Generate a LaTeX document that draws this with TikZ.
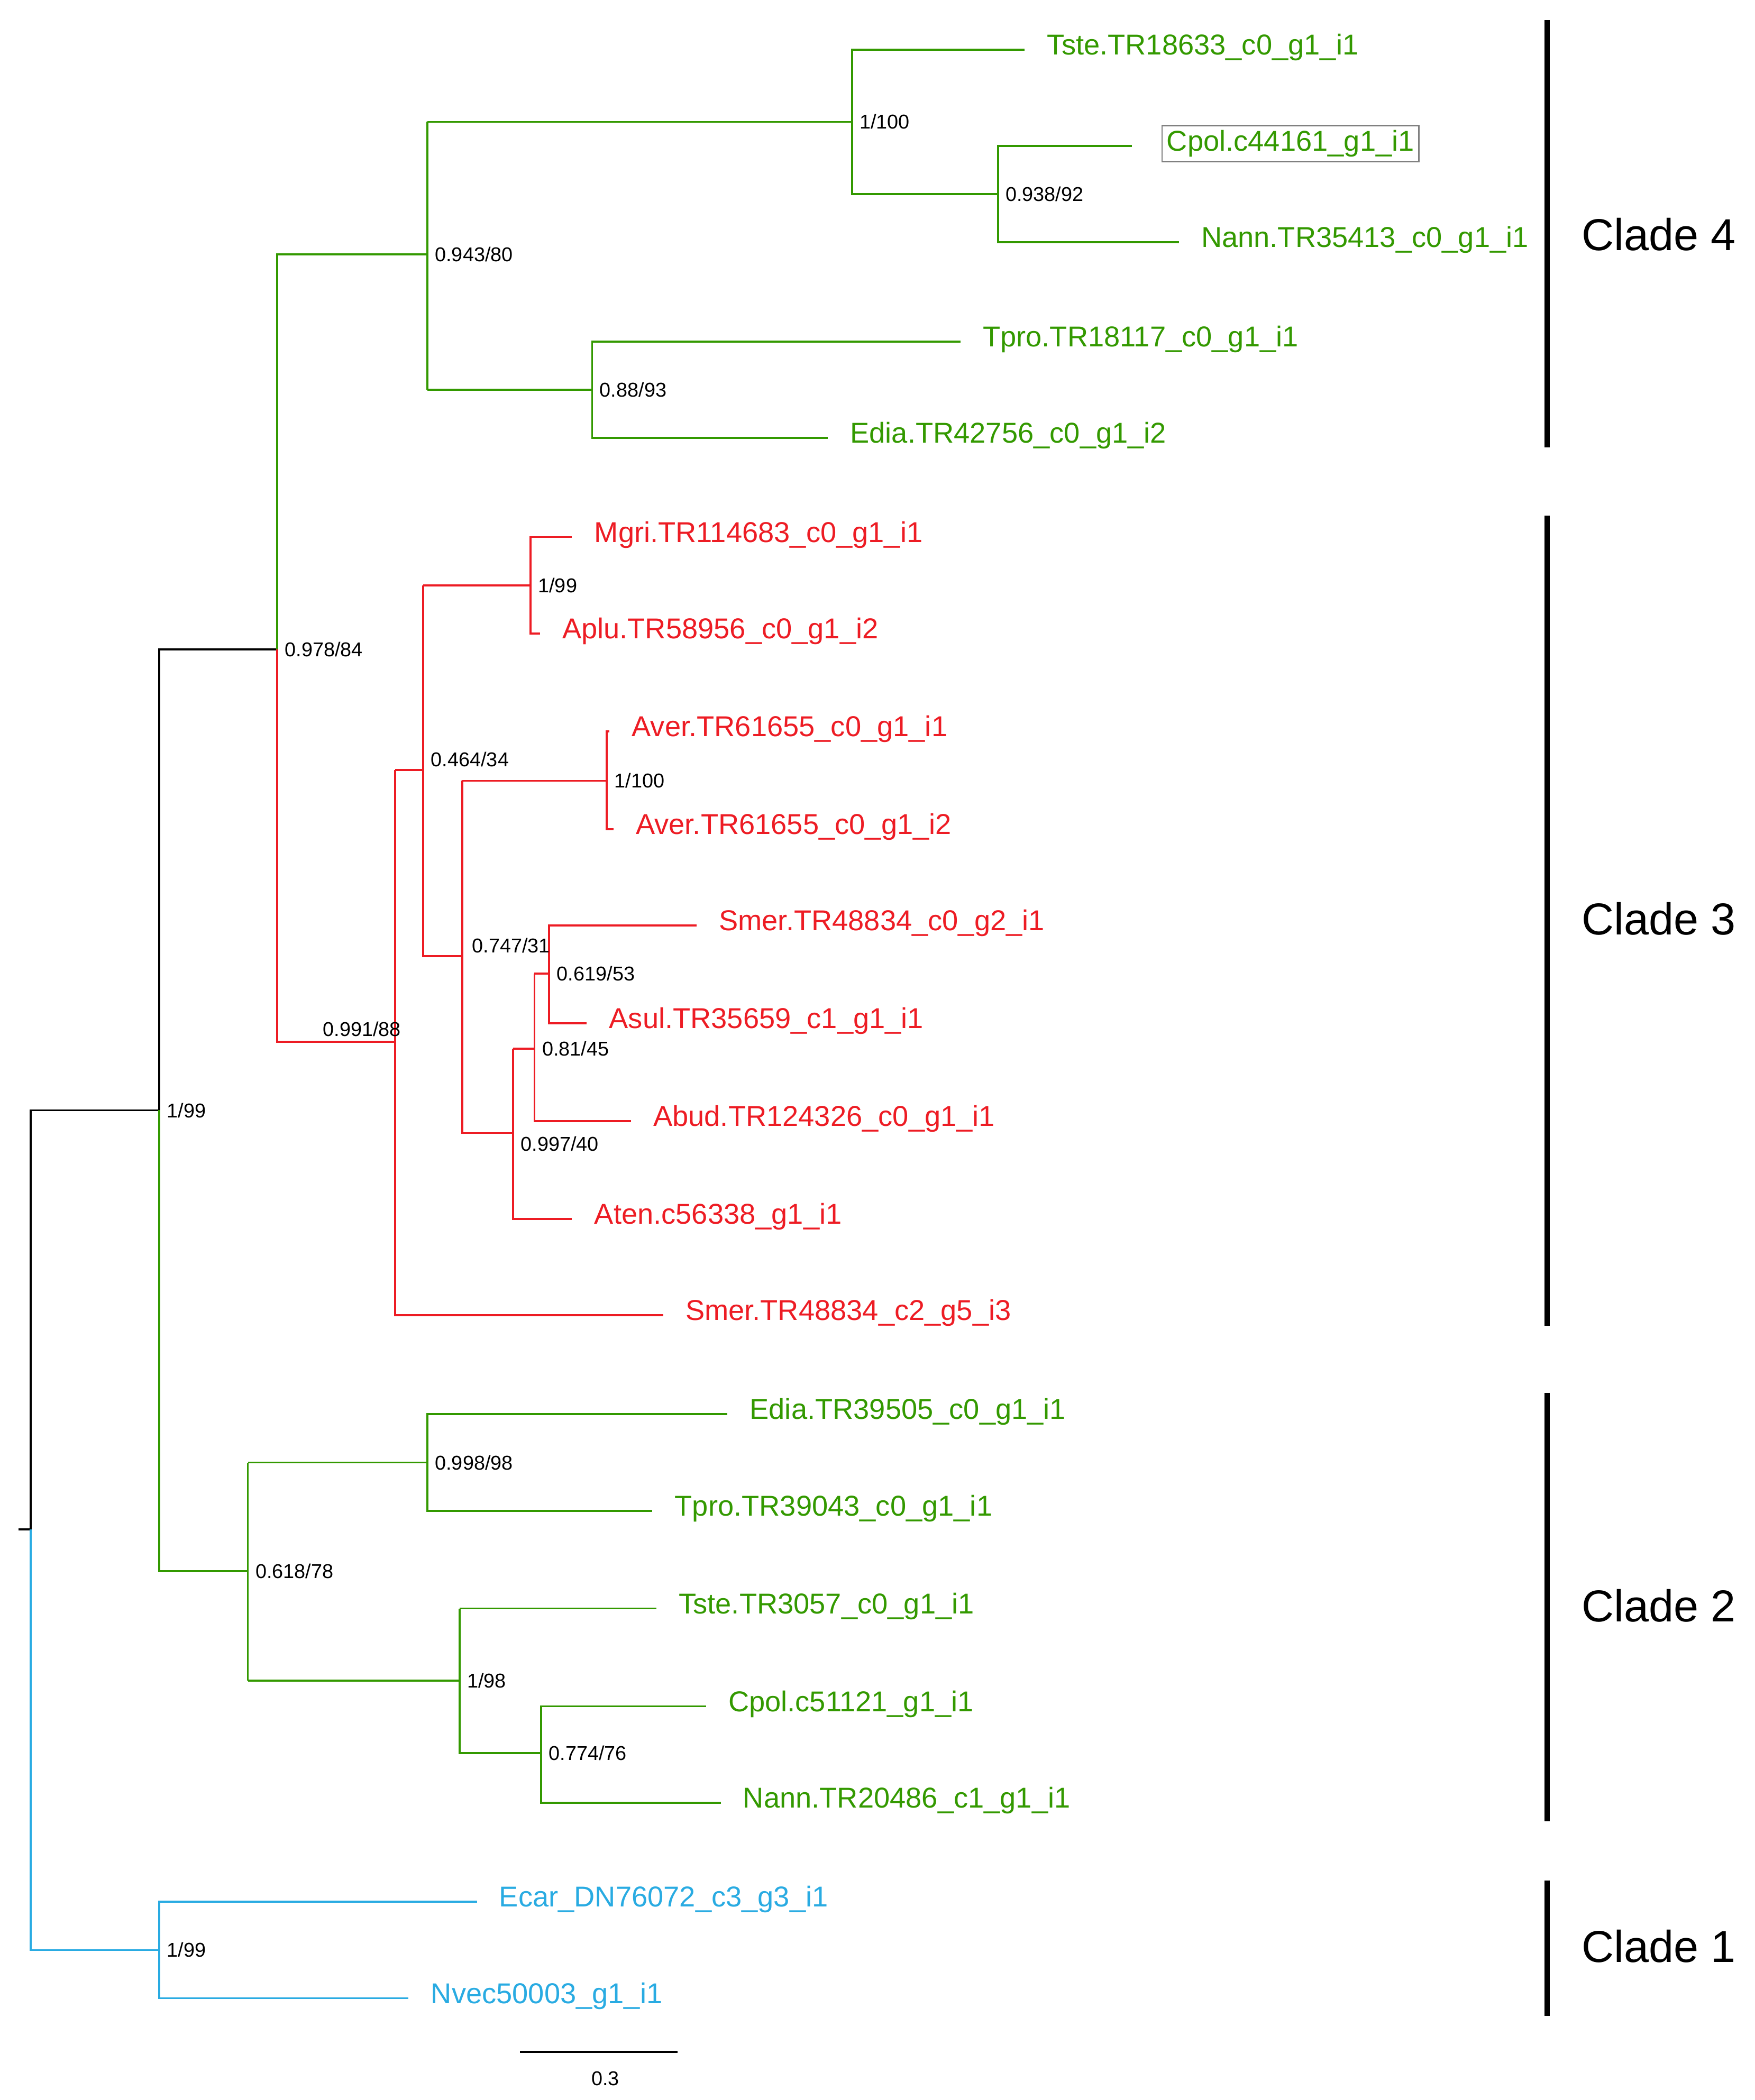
\documentclass[tikz,border=0pt]{standalone}
\usepackage{fontspec}
\setmainfont{Liberation Sans}
\definecolor{cg}{RGB}{51,153,0}
\definecolor{cr}{RGB}{237,28,36}
\definecolor{cb}{RGB}{41,171,226}
\begin{document}
\begin{tikzpicture}[x=0.02cm,y=-0.02cm,line width=0.85pt,
  leaf/.style={anchor=west,inner sep=0pt,xshift=0.32cm,yshift=1pt,font=\fontsize{12.2}{14}\selectfont},
  sup/.style={anchor=west,inner sep=0pt,xshift=0.1cm,font=\fontsize{8.5}{10}\selectfont,text=black},
  clade/.style={anchor=west,inner sep=0pt,font=\fontsize{19}{22}\selectfont},
  bar/.style={line width=2.4pt,black}]
\useasboundingbox (0,0) rectangle (1310,1568);
% internal nodes (x of vertical, y of attachment)
\coordinate (R) at (23,1142);
\coordinate (A) at (119,829);
\coordinate (B) at (207,485);
\coordinate (C4) at (319,190);
\coordinate (D) at (636,91);
\coordinate (E) at (745,145);
\coordinate (F) at (442,291);
\coordinate (G) at (295,778);
\coordinate (H) at (316,575);
\coordinate (I) at (396,437);
\coordinate (J) at (345,714);
\coordinate (K) at (453,583);
\coordinate (L) at (383,846);
\coordinate (M) at (399,783);
\coordinate (N) at (410,727);
\coordinate (O) at (185,1173);
\coordinate (P) at (319,1092);
\coordinate (Q) at (343,1255);
\coordinate (S) at (404,1309);
\coordinate (T) at (119,1456);
% leaves
\coordinate (l1) at (765,37);  \node[leaf,text=cg] (t1) at (l1) {Tste.TR18633\_c0\_g1\_i1};
\coordinate (l2) at (845,109); \node[leaf,text=cg,draw=gray,line width=0.6pt,inner sep=2pt,xshift=0.12cm] (t2) at (l2) {Cpol.c44161\_g1\_i1};
\coordinate (l3) at (880,181); \node[leaf,text=cg] (t3) at (l3) {Nann.TR35413\_c0\_g1\_i1};
\coordinate (l4) at (717,255); \node[leaf,text=cg] (t4) at (l4) {Tpro.TR18117\_c0\_g1\_i1};
\coordinate (l5) at (618,327); \node[leaf,text=cg] (t5) at (l5) {Edia.TR42756\_c0\_g1\_i2};
\coordinate (l6) at (427,401); \node[leaf,text=cr] (t6) at (l6) {Mgri.TR114683\_c0\_g1\_i1};
\coordinate (l7) at (403,473); \node[leaf,text=cr] (t7) at (l7) {Aplu.TR58956\_c0\_g1\_i2};
\coordinate (l8) at (455,546); \node[leaf,text=cr] (t8) at (l8) {Aver.TR61655\_c0\_g1\_i1};
\coordinate (l9) at (458,619); \node[leaf,text=cr] (t9) at (l9) {Aver.TR61655\_c0\_g1\_i2};
\coordinate (l10) at (520,691); \node[leaf,text=cr] (t10) at (l10) {Smer.TR48834\_c0\_g2\_i1};
\coordinate (l11) at (438,764); \node[leaf,text=cr] (t11) at (l11) {Asul.TR35659\_c1\_g1\_i1};
\coordinate (l12) at (471,837); \node[leaf,text=cr] (t12) at (l12) {Abud.TR124326\_c0\_g1\_i1};
\coordinate (l13) at (427,910); \node[leaf,text=cr] (t13) at (l13) {Aten.c56338\_g1\_i1};
\coordinate (l14) at (495,982); \node[leaf,text=cr] (t14) at (l14) {Smer.TR48834\_c2\_g5\_i3};
\coordinate (l15) at (543,1056); \node[leaf,text=cg] (t15) at (l15) {Edia.TR39505\_c0\_g1\_i1};
\coordinate (l16) at (487,1128); \node[leaf,text=cg] (t16) at (l16) {Tpro.TR39043\_c0\_g1\_i1};
\coordinate (l17) at (490,1201); \node[leaf,text=cg] (t17) at (l17) {Tste.TR3057\_c0\_g1\_i1};
\coordinate (l18) at (527,1274); \node[leaf,text=cg] (t18) at (l18) {Cpol.c51121\_g1\_i1};
\coordinate (l19) at (538,1346); \node[leaf,text=cg] (t19) at (l19) {Nann.TR20486\_c1\_g1\_i1};
\coordinate (l20) at (356,1420); \node[leaf,text=cb] (t20) at (l20) {Ecar\_DN76072\_c3\_g3\_i1};
\coordinate (l21) at (305,1492); \node[leaf,text=cb] (t21) at (l21) {Nvec50003\_g1\_i1};
% black
\draw[black] (14,1142) -- (R);
\draw[black] (R) -- (R|-A) -- (A) -- (A|-B) -- (B);
% blue
\draw[cb] (R) -- (R|-T) -- (T);
\draw[cb] (l20) -- (T|-l20) -- (T|-l21) -- (l21);
% green clade 2
\draw[cg] (A) -- (A|-O) -- (O);
\draw[cg] (O|-P) -- (O|-Q);
\draw[cg] (O|-P) -- (P); \draw[cg] (O|-Q) -- (Q);
\draw[cg] (l15) -- (P|-l15) -- (P|-l16) -- (l16);
\draw[cg] (Q|-l17) -- (Q|-S) -- (S);
\draw[cg] (l17) -- (Q|-l17);
\draw[cg] (l18) -- (S|-l18) -- (S|-l19) -- (l19);
% green clade 4
\draw[cg] (B) -- (B|-C4) -- (C4);
\draw[cg] (C4|-D) -- (C4|-F); \draw[cg] (C4|-D) -- (D); \draw[cg] (C4|-F) -- (F);
\draw[cg] (l1) -- (D|-l1) -- (D|-E) -- (E);
\draw[cg] (l2) -- (E|-l2) -- (E|-l3) -- (l3);
\draw[cg] (l4) -- (F|-l4) -- (F|-l5) -- (l5);
% red clade 3
\draw[cr] (B) -- (B|-G) -- (G);
\draw[cr] (G|-H) -- (G|-l14) -- (l14); \draw[cr] (G|-H) -- (H);
\draw[cr] (H|-I) -- (H|-J) -- (J); \draw[cr] (H|-I) -- (I);
\draw[cr] (l6) -- (I|-l6) -- (I|-l7) -- (l7);
\draw[cr] (J|-K) -- (J|-L) -- (L); \draw[cr] (J|-K) -- (K);
\draw[cr] (l8) -- (K|-l8) -- (K|-l9) -- (l9);
\draw[cr] (L|-M) -- (L|-l13) -- (l13); \draw[cr] (L|-M) -- (M);
\draw[cr] (M|-N) -- (M|-l12) -- (l12); \draw[cr] (M|-N) -- (N);
\draw[cr] (l10) -- (N|-l10) -- (N|-l11) -- (l11);
% support labels
\node[sup] at (A) {1/99};
\node[sup] at (B) {0.978/84};
\node[sup] at (C4) {0.943/80};
\node[sup] at (D) {1/100};
\node[sup] at (E) {0.938/92};
\node[sup] at (F) {0.88/93};
\node[sup,anchor=south east,xshift=0pt,yshift=2pt] at (G) {0.991/88};
\node[sup,anchor=south west,yshift=1pt] at (H) {0.464/34};
\node[sup] at (I) {1/99};
\node[sup,anchor=south west,xshift=1pt,yshift=1pt] at (J) {0.747/31};
\node[sup] at (K) {1/100};
\node[sup,anchor=north west,yshift=-1pt] at (L) {0.997/40};
\node[sup] at (M) {0.81/45};
\node[sup] at (N) {0.619/53};
\node[sup] at (O) {0.618/78};
\node[sup] at (P) {0.998/98};
\node[sup] at (Q) {1/98};
\node[sup] at (S) {0.774/76};
\node[sup] at (T) {1/99};
% clade bars
\draw[bar] (1155,15) -- (1155,334);
\draw[bar] (1155,385) -- (1155,990);
\draw[bar] (1155,1040) -- (1155,1360);
\draw[bar] (1155,1404) -- (1155,1505);
\node[clade] at (1180,175) {Clade 4};
\node[clade] at (1180,686) {Clade 3};
\node[clade] at (1180,1199) {Clade 2};
\node[clade] at (1180,1453) {Clade 1};
% scale bar
\coordinate (s1) at (388,1532); \coordinate (s2) at (506,1532);
\draw[black] (s1) -- (s2);
\node[sup,anchor=center,xshift=0pt] at (447,1552) {0.3};
\end{tikzpicture}
\end{document}
